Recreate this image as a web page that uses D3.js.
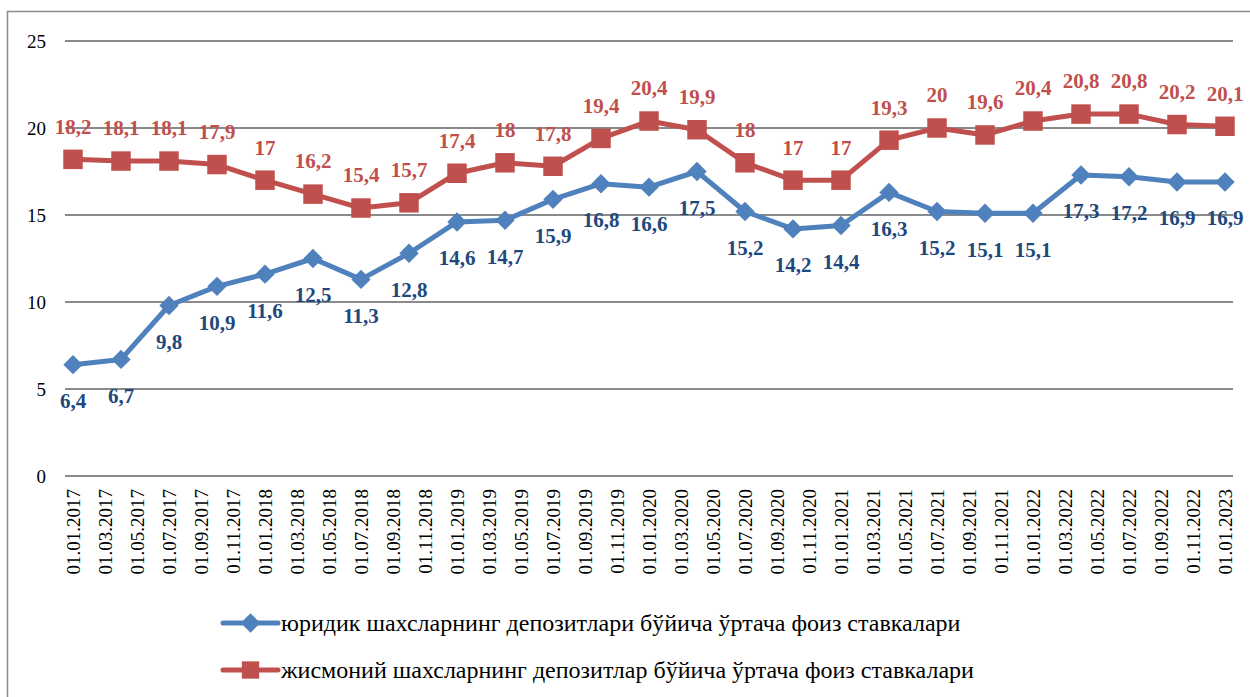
<!DOCTYPE html>
<html><head><meta charset="utf-8">
<script src="https://cdn.jsdelivr.net/npm/d3@7/dist/d3.min.js"></script>
</head>
<body style="margin:0">
<svg id="c" width="1250" height="697" style="display:block"></svg>
<script>
// Tick labels (every 2 months), month index 0..72
const tickLabels = ["01.01.2017","01.03.2017","01.05.2017","01.07.2017","01.09.2017","01.11.2017",
"01.01.2018","01.03.2018","01.05.2018","01.07.2018","01.09.2018","01.11.2018",
"01.01.2019","01.03.2019","01.05.2019","01.07.2019","01.09.2019","01.11.2019",
"01.01.2020","01.03.2020","01.05.2020","01.07.2020","01.09.2020","01.11.2020",
"01.01.2021","01.03.2021","01.05.2021","01.07.2021","01.09.2021","01.11.2021",
"01.01.2022","01.03.2022","01.05.2022","01.07.2022","01.09.2022","01.11.2022",
"01.01.2023"];
// Quarterly observations: month index from 01.01.2017
const pointMonths = [0,3,6,9,12,15,18,21,24,27,30,33,36,39,42,45,48,51,54,57,60,63,66,69,72];
const legalRates = [6.4,6.7,9.8,10.9,11.6,12.5,11.3,12.8,14.6,14.7,15.9,16.8,16.6,17.5,15.2,14.2,14.4,16.3,15.2,15.1,15.1,17.3,17.2,16.9,16.9];
const individualRates = [18.2,18.1,18.1,17.9,17,16.2,15.4,15.7,17.4,18,17.8,19.4,20.4,19.9,18,17,17,19.3,20,19.6,20.4,20.8,20.8,20.2,20.1];
const yTicks = [0,5,10,15,20,25];
const seriesNames = ["юридик шахсларнинг депозитлари бўйича ўртача фоиз ставкалари",
"жисмоний шахсларнинг депозитлар бўйича ўртача фоиз ставкалари"];

const FONT = '"Liberation Serif"';
const svg = d3.select("#c");
const fmt = v => String(v).replace(".", ",");
const serif = sel => sel.style("font-family", FONT, "important").attr("font-family", "Liberation Serif");

// chart border
svg.append("rect").attr("x",7.5).attr("y",11.5).attr("width",1260).attr("height",700)
  .attr("fill","#fff").attr("stroke","#8c8c8c").attr("stroke-width",1.5);

const x = d3.scaleLinear().domain([-0.5,72.5]).range([65,1233]);
const y = d3.scaleLinear().domain([0,25]).range([476,41]);

// gridlines
svg.append("g").selectAll("line").data(yTicks).join("line")
  .attr("x1",65).attr("x2",1233).attr("y1",d=>y(d)).attr("y2",d=>y(d))
  .attr("stroke","#8a8a8a").attr("stroke-width",2);

// y labels
const yAxis = d3.axisLeft(y).tickValues(yTicks).tickSize(0).tickPadding(0).tickFormat(d=>d);
const gy = svg.append("g").attr("transform","translate(46,0)").call(yAxis);
gy.select(".domain").remove();
serif(gy);
gy.selectAll("text").call(serif).attr("font-size",19).attr("fill","#000");

// x labels
const xAxis = d3.axisBottom(x).tickValues(d3.range(0,73,2)).tickSize(0).tickFormat((d,i)=>tickLabels[i]);
const gx = svg.append("g").attr("transform","translate(0,476)").call(xAxis);
gx.select(".domain").remove();
serif(gx);
gx.selectAll("text").call(serif).attr("font-size",19).attr("fill","#000")
  .attr("transform","rotate(-90)").attr("text-anchor","end").attr("dy","0.33em").attr("x",-13).attr("y",0);

const line = d3.line().x(d=>x(d[0])).y(d=>y(d[1]));
const blueData = pointMonths.map((m,i)=>[m,legalRates[i]]);
const redData = pointMonths.map((m,i)=>[m,individualRates[i]]);

svg.append("path").datum(blueData).attr("d",line).attr("fill","none").attr("stroke","#4F81BD").attr("stroke-width",5).attr("stroke-linejoin","round");
svg.append("path").datum(redData).attr("d",line).attr("fill","none").attr("stroke","#C0504D").attr("stroke-width",5).attr("stroke-linejoin","round");

const diamond = d3.symbol().type(d3.symbolDiamond2).size(240);
const square = d3.symbol().type(d3.symbolSquare).size(380);

svg.append("g").selectAll("path").data(blueData).join("path")
  .attr("d",diamond).attr("transform",d=>`translate(${x(d[0])},${y(d[1])})`)
  .attr("fill","#4F81BD");
svg.append("g").selectAll("path").data(redData).join("path")
  .attr("d",square).attr("transform",d=>`translate(${x(d[0])},${y(d[1])})`)
  .attr("fill","#C0504D");

// data labels
svg.append("g").selectAll("text").data(blueData).join("text")
  .attr("x",d=>x(d[0])).attr("y",d=>y(d[1])+36).attr("dy","0.35em")
  .attr("text-anchor","middle").call(serif).attr("font-size",21).attr("font-weight","bold").attr("fill","#1F497D")
  .text(d=>fmt(d[1]));
svg.append("g").selectAll("text").data(redData).join("text")
  .attr("x",d=>x(d[0])).attr("y",d=>y(d[1])-33).attr("dy","0.35em")
  .attr("text-anchor","middle").call(serif).attr("font-size",21).attr("font-weight","bold").attr("fill","#C0504D")
  .text(d=>fmt(d[1]));

// legend
const leg = svg.append("g");
const legItems = [{c:"#4F81BD",sym:diamond,y:623,name:seriesNames[0]},{c:"#C0504D",sym:d3.symbol().type(d3.symbolSquare).size(300),y:670,name:seriesNames[1]}];
legItems.forEach(it=>{
  leg.append("line").attr("x1",223).attr("x2",278).attr("y1",it.y).attr("y2",it.y).attr("stroke",it.c).attr("stroke-width",5).attr("stroke-linecap","round");
  leg.append("path").attr("d",it.sym).attr("transform",`translate(250.5,${it.y})`).attr("fill",it.c);
  leg.append("text").attr("x",281).attr("y",it.y).attr("dy","0.35em").call(serif).attr("font-size",24).attr("fill","#000").text(it.name);
});
</script></body></html>
